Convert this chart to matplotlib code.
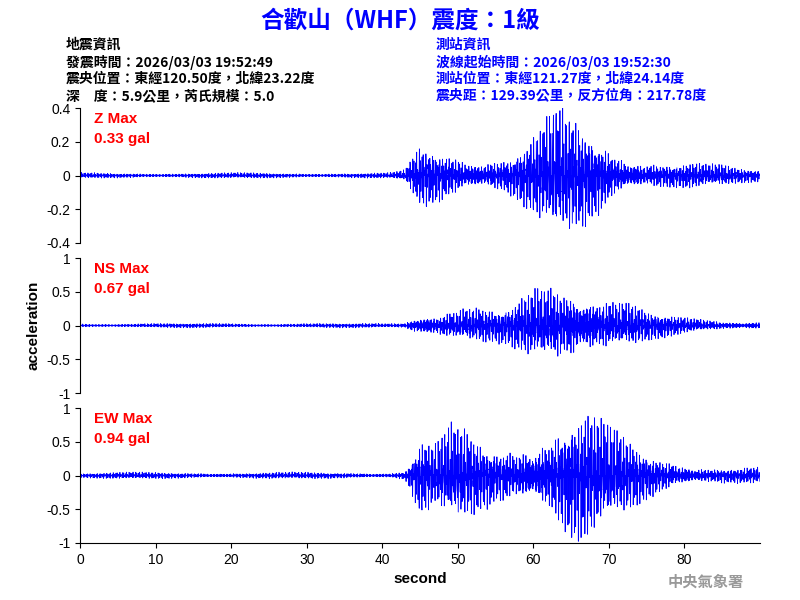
import matplotlib
matplotlib.use("Agg")
import matplotlib.pyplot as plt
import numpy as np

plt.rcParams['font.family'] = ['Liberation Sans', 'Noto Sans CJK TC', 'DejaVu Sans']

title = "合歡山（WHF）震度：1級"
left_info = ["地震資訊", "發震時間：2026/03/03 19:52:49",
             "震央位置：東經120.50度，北緯23.22度", "深　度：5.9公里，芮氏規模：5.0"]
right_info = ["測站資訊", "波線起始時間：2026/03/03 19:52:30",
              "測站位置：東經121.27度，北緯24.14度", "震央距：129.39公里，反方位角：217.78度"]

components = ["Z", "NS", "EW"]
max_gal = ["0.33", "0.67", "0.94"]
ylims = [0.4, 1.0, 1.0]
yticks = [[-0.4, -0.2, 0, 0.2, 0.4], [-1, -0.5, 0, 0.5, 1], [-1, -0.5, 0, 0.5, 1]]

# envelope amplitude read per 2-second bin, 0..90 s
env_z = [0.01]*21 + [0.02, 0.12, 0.12, 0.11, 0.09, 0.08, 0.08, 0.09, 0.13, 0.18,
                     0.24, 0.22, 0.2, 0.17, 0.11, 0.09, 0.07, 0.06, 0.05, 0.05,
                     0.04, 0.04, 0.03, 0.03]
env_ns = [0.02]*21 + [0.03, 0.15, 0.15, 0.17, 0.18, 0.17, 0.15, 0.18, 0.3, 0.4,
                      0.45, 0.5, 0.45, 0.35, 0.27, 0.22, 0.14, 0.11, 0.09, 0.07,
                      0.06, 0.05, 0.05, 0.05]
env_ew = [0.03]*21 + [0.05, 0.4, 0.3, 0.45, 0.42, 0.35, 0.3, 0.33, 0.4, 0.5,
                      0.6, 0.7, 0.65, 0.5, 0.4, 0.32, 0.25, 0.2, 0.16, 0.13,
                      0.1, 0.09, 0.08, 0.08]
envs = [env_z, env_ns, env_ew]

fig = plt.figure(figsize=(8, 6), dpi=100)
fig.text(0.5, 0.965, title, ha='center', va='center', color='#0000ff',
         fontsize=17, fontweight='bold', family=['Noto Sans CJK TC'])
for i, s in enumerate(left_info):
    fig.text(0.082, 0.925 - i*0.0285, s, fontsize=10, fontweight='bold', va='center',
             family=['Noto Sans CJK TC'])
for i, s in enumerate(right_info):
    fig.text(0.545, 0.925 - i*0.0285, s, fontsize=10, fontweight='bold',
             va='center', color='#0000ff', family=['Noto Sans CJK TC'])

t = np.arange(0, 90, 0.02)
bottoms = [0.595, 0.345, 0.095]
for k in range(3):
    ax = fig.add_axes([0.1, bottoms[k], 0.85, 0.225])
    env = np.interp(t, np.arange(0, 90, 2) + 1, envs[k])
    wave = (np.sin(t*61.3 + k) * np.cos(t*17.9) + 0.5*np.sin(t*43.7 + 3*k)) * np.sin(t*7.3 + 2*k)
    ax.plot(t, env*wave*1.2, color='#0000ff', lw=0.6)
    ax.set_xlim(0, 90)
    ax.set_ylim(-ylims[k], ylims[k])
    ax.set_yticks(yticks[k])
    ax.set_yticklabels([f"{v:g}" for v in yticks[k]])
    for sp in ['top', 'right']:
        ax.spines[sp].set_visible(False)
    if k < 2:
        ax.spines['bottom'].set_visible(False)
        ax.set_xticks([])
    else:
        ax.set_xticks(range(0, 90, 10))
        ax.set_xlabel("second", fontsize=11, fontweight='bold')
    ax.text(0.02, 0.97, f"{components[k]} Max\n{max_gal[k]} gal", transform=ax.transAxes,
            color='red', fontsize=11, fontweight='bold', va='top', linespacing=1.5)
    if k == 1:
        ax.set_ylabel("acceleration", fontsize=11, fontweight='bold')

fig.text(0.93, 0.03, "中央氣象署", ha='right', va='center', color='#999999',
         fontsize=11, fontweight='bold', family=['Noto Sans CJK TC'])
fig.savefig("out.png", dpi=100)
